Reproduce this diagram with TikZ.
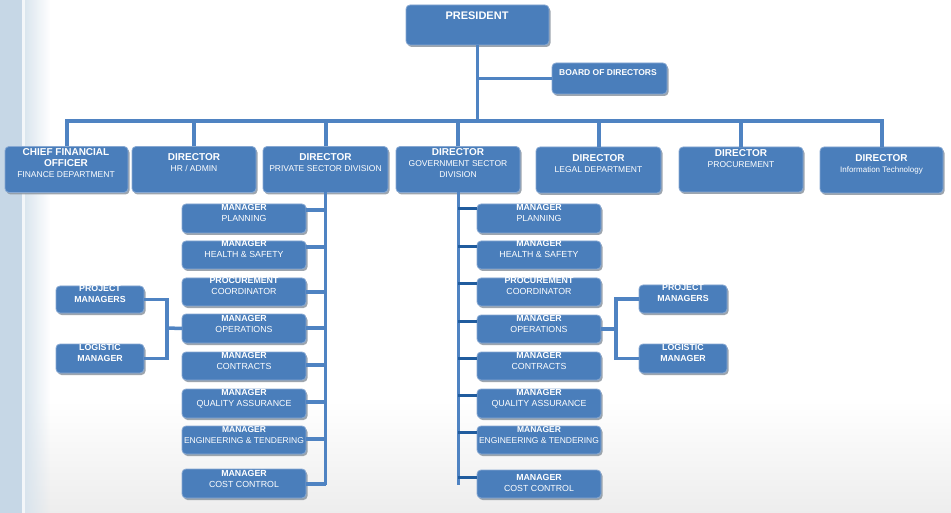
\documentclass[tikz,border=0pt]{standalone}
\usepackage{fontspec}
\setmainfont{Liberation Sans}
\usetikzlibrary{shadows,calc,fadings}
\definecolor{boxblue}{RGB}{74,126,187}
\definecolor{boxedge}{RGB}{135,168,210}
\definecolor{lineblue}{RGB}{79,131,194}
\definecolor{stubblue}{RGB}{32,92,158}
\definecolor{stripblue}{RGB}{198,215,230}
\definecolor{shadowgray}{RGB}{140,150,160}
\newcommand\obx[5]{\node[obox, minimum width={#4-#2}, minimum height={#5-#3}] (#1) at ({(#2+#4)/2},{(#3+#5)/2}) {};}
\newcommand\otx[4]{\node[txt] (#1) at (#2,#3) {#4};}
\newcommand\omx[4]{\node[txt, font=\fontsize{8.8}{11}\selectfont] (#1) at (#2,#3) {#4};}
\newcommand\dB{\fontsize{10}{11}\selectfont\bfseries}
\newcommand\mB{\bfseries}
\begin{document}
\begin{tikzpicture}[x=1pt,y=-1pt,
  obox/.style={draw=boxedge, line width=0.8pt, fill=boxblue, rounded corners=4pt, inner sep=0pt, outer sep=0pt,
    drop shadow={shadow xshift=1.5pt, shadow yshift=-2pt, fill=shadowgray, opacity=0.85}},
  txt/.style={anchor=north, inner sep=0pt, text=white, align=center, font=\fontsize{8.5}{11}\selectfont},
  conn/.style={draw=lineblue, line width=3.5pt},
  stub/.style={draw=stubblue, line width=3pt}]
% background
\useasboundingbox (0,0) rectangle (951,513);
\fill[white] (0,0) rectangle (951,513);
\shade[top color=white, bottom color=black!7] (0,400) rectangle (951,513);
\fill[stripblue] (0,0) rectangle (22,513);
\fill[stripblue!70, path fading=east] (22,0) rectangle (50,513);
\fill[white, opacity=0.7] (22,0) rectangle (25,513);

% top level
\obx{pres}{406}{5}{549}{45}
\otx{presT}{477}{11.5}{\fontsize{11}{12}\selectfont\bfseries PRESIDENT}
\obx{board}{552}{63}{667}{94}
\otx{boardT}{608}{69}{\mB BOARD OF DIRECTORS}

% directors
\obx{cfo}{5}{146.5}{128}{192.5}
\otx{cfoT}{66}{148.5}{{\dB CHIEF FINANCIAL}\\{\dB OFFICER}\\FINANCE DEPARTMENT}
\obx{hr}{132}{146.5}{256}{192.5}
\otx{hrT}{194}{153.5}{{\dB DIRECTOR}\\HR / ADMIN}
\obx{priv}{263}{146.5}{388}{192.5}
\otx{privT}{325.5}{153.5}{{\dB DIRECTOR}\\PRIVATE SECTOR DIVISION}
\obx{gov}{396}{146.5}{520}{192.5}
\otx{govT}{458}{148.5}{{\dB DIRECTOR}\\GOVERNMENT SECTOR\\DIVISION}
\obx{legal}{536}{147}{661}{193}
\otx{legalT}{598.5}{154.5}{{\dB DIRECTOR}\\LEGAL DEPARTMENT}
\obx{proc}{679}{147}{803}{192}
\otx{procT}{741}{149.5}{{\dB DIRECTOR}\\PROCUREMENT}
\obx{it}{820}{147}{943}{193}
\otx{itT}{881.5}{154.5}{{\dB DIRECTOR}\\{\fontsize{8}{11}\selectfont Information Technology}}

% private sector managers
\obx{pplan}{182}{204}{306}{233}
\omx{pplanT}{244}{204}{{\mB MANAGER}\\PLANNING}
\obx{phs}{182}{241}{306}{269}
\omx{phsT}{244}{240.5}{{\mB MANAGER}\\HEALTH \& SAFETY}
\obx{ppc}{182}{278}{306}{306}
\omx{ppcT}{244}{277}{{\mB PROCUREMENT}\\COORDINATOR}
\obx{pops}{182}{314}{306}{343}
\omx{popsT}{244}{315}{{\mB MANAGER}\\OPERATIONS}
\obx{pcon}{182}{352}{306}{380}
\omx{pconT}{244}{352}{{\mB MANAGER}\\CONTRACTS}
\obx{pqa}{182}{389}{306}{418}
\omx{pqaT}{244}{389}{{\mB MANAGER}\\QUALITY ASSURANCE}
\obx{peng}{182}{426}{306}{454}
\otx{pengT}{244}{426}{{\mB MANAGER}\\ENGINEERING \& TENDERING}
\obx{pcost}{182}{469}{306}{498}
\omx{pcostT}{244}{470}{{\mB MANAGER}\\COST CONTROL}
\obx{ppm}{56}{286}{144}{313}
\omx{ppmT}{100}{285.5}{{\mB PROJECT}\\{\mB MANAGERS}}
\obx{plog}{56}{344}{144}{373}
\omx{plogT}{100}{344.5}{{\mB LOGISTIC}\\{\mB MANAGER}}

% government sector managers
\obx{gplan}{477}{204}{601}{233}
\omx{gplanT}{539}{204}{{\mB MANAGER}\\PLANNING}
\obx{ghs}{477}{241}{601}{269}
\omx{ghsT}{539}{240.5}{{\mB MANAGER}\\HEALTH \& SAFETY}
\obx{gpc}{477}{278}{601}{306}
\omx{gpcT}{539}{277}{{\mB PROCUREMENT}\\COORDINATOR}
\obx{gops}{477}{315}{601}{343}
\omx{gopsT}{539}{315}{{\mB MANAGER}\\OPERATIONS}
\obx{gcon}{477}{352}{601}{380}
\omx{gconT}{539}{352}{{\mB MANAGER}\\CONTRACTS}
\obx{gqa}{477}{389}{601}{418}
\omx{gqaT}{539}{389}{{\mB MANAGER}\\QUALITY ASSURANCE}
\obx{geng}{477}{426}{601}{454}
\otx{gengT}{539}{426}{{\mB MANAGER}\\ENGINEERING \& TENDERING}
\obx{gcost}{477}{470}{601}{498}
\omx{gcostT}{539}{474}{{\mB MANAGER}\\COST CONTROL}
\obx{gpm}{639}{285}{727}{313}
\omx{gpmT}{683}{284.5}{{\mB PROJECT}\\{\mB MANAGERS}}
\obx{glog}{639}{344}{727}{373}
\omx{glogT}{683}{344}{{\mB LOGISTIC}\\{\mB MANAGER}}

% connectors top
\coordinate (bar) at (0,121);
\draw[conn] (pres.south) -- (pres.south |- bar);
\draw[conn] (board.west) -- (board.west -| pres.south);
\draw[conn, line width=4pt] (cfo.north) -- (cfo.north |- bar) -- (it.north |- bar) -- (it.north);
\foreach \d in {hr,priv,gov,legal,proc}{\draw[conn, line width=4pt] (\d.north) -- (\d.north |- bar);}

% private column
\draw[conn] (priv.south) -- (priv.south |- 0,485);
\foreach \b/\yy in {pplan/210,phs/247,ppc/292,pops/328,pcon/365,pqa/402,peng/439,pcost/484}
  {\draw[conn] (\b.east |- 0,\yy) -- (priv.south |- 0,\yy);}
\coordinate (pj) at (167,328);
\draw[conn] (ppm.east) -| (pj) |- (plog.east);
\draw[conn] (pops.west) -- (pj);

% government column
\draw[conn, line width=3pt] (gov.south) -- (gov.south |- 0,485);
\foreach \b/\yy in {gplan/209,ghs/247,gpc/284,gops/321,gcon/358,gqa/395,geng/432,gcost/477}
  {\draw[stub] (\b.west |- 0,\yy) -- (gov.south |- 0,\yy);}
\coordinate (gj) at (616,329);
\draw[conn] (gpm.west) -| (gj) |- (glog.west);
\draw[conn] (gops.east) -- (gj);
\end{tikzpicture}
\end{document}
